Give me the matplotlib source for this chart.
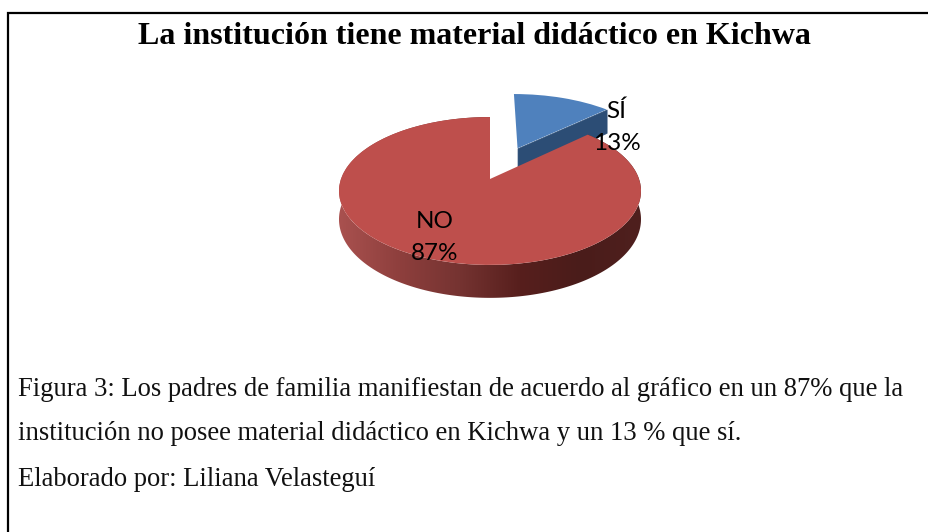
import numpy as np
import matplotlib
matplotlib.use("Agg")
import matplotlib.pyplot as plt
from matplotlib.collections import PolyCollection
from matplotlib.colors import LinearSegmentedColormap
from matplotlib.patches import Polygon
from matplotlib.transforms import Transform

categories = ["SÍ", "NO"]
percentages = [13, 87]
explode = [0.5, 0]
top_colors = ["#4F81BD", "#BE4F4C"]
title = "La institución tiene material didáctico en Kichwa"
caption_lines = [
    "Figura 3: Los padres de familia manifiestan de acuerdo al gráfico en un 87% que la",
    "institución no posee material didáctico en Kichwa y un 13 % que sí.",
    "Elaborado por: Liliana Velasteguí",
]

CX, CY, RX, SY, K, DEPTH = 490.0, 179.0, 149.0, 72.0, 0.162, 27.6


def project(xy, z=0.0):
    xy = np.asarray(xy, dtype=float)
    w = 1 + K * xy[:, 1]
    return np.column_stack([CX + RX * xy[:, 0] / w, CY - (SY * xy[:, 1] - z) / w])


class Perspective(Transform):
    input_dims = output_dims = 2
    has_inverse = False
    is_separable = False

    def transform_non_affine(self, values):
        return project(values)


fig = plt.figure(figsize=(9.29, 5.32), dpi=100, facecolor="white")
ax = fig.add_axes([0, 0, 1, 1])
wedges, _ = ax.pie(percentages, explode=explode, colors=top_colors, startangle=90,
                   counterclock=False, radius=1, wedgeprops={"linewidth": 0})

persp = Perspective()
blue, red = wedges
for w in wedges:
    w.set_transform(persp + ax.transData)


def arc_points(w, t):
    a = np.deg2rad(t)
    return np.column_stack([w.center[0] + w.r * np.cos(a), w.center[1] + w.r * np.sin(a)])


# blue cut face (front-right radial edge)
edge = np.array([[blue.center[0], blue.center[1]], arc_points(blue, [blue.theta1])[0]])
blue_face = np.vstack([project(edge), project(edge[::-1], DEPTH)])
ax.add_collection(PolyCollection([blue_face], facecolors="#2C4D75", edgecolors="#2C4D75",
                                 linewidths=0.5, zorder=1))
blue.set_zorder(2)

# red rim with a smooth horizontal shading, clipped to the rim outline
side_cmap = LinearSegmentedColormap.from_list(
    "rim", ["#A9514F", "#8E3F3D", "#753331", "#571F1D", "#4A1C1A", "#4F201E"])
ts = np.linspace(red.theta1, red.theta2, 361)
pts = arc_points(red, ts)
top_pts, bottom_pts = project(pts), project(pts, DEPTH)
rim_outline = np.vstack([top_pts, bottom_pts[::-1]])
x0, x1 = rim_outline[:, 0].min(), rim_outline[:, 0].max()
y0, y1 = rim_outline[:, 1].min(), rim_outline[:, 1].max()
rim_clip = Polygon(rim_outline, closed=True, transform=ax.transData, facecolor="none", edgecolor="none")
ax.add_patch(rim_clip)
im = ax.imshow(np.linspace(0, 1, 256)[None, :], cmap=side_cmap, extent=(x0, x1, y1, y0),
               aspect="auto", interpolation="bilinear", zorder=3)
im.set_clip_path(rim_clip)
red.set_zorder(4)

ax.set_aspect("auto")
ax.set_xlim(0, 929)
ax.set_ylim(532, 0)
ax.set_xticks([])
ax.set_yticks([])
ax.set_frame_on(False)

# slice labels
label_font = dict(family="Lato", fontsize=17.5, color="black", ha="center", va="center", zorder=6)
ax.text(616, 111, f"{categories[0]}", **label_font)
ax.text(617, 143, f"{percentages[0]}%", **label_font)
ax.text(435, 221, f"{categories[1]}", **label_font)
ax.text(435, 253, f"{percentages[1]}%", **label_font)

# text
serif = "Liberation Serif"
ax.text(474, 36, title, family=serif, fontsize=23, fontweight="bold", ha="center", va="center")
for y, line in zip([389, 433, 479], caption_lines):
    ax.text(18, y, line, family=serif, fontsize=19.15, ha="left", va="center", color="#111111")

# outer box: left and top rules only
ax.plot([8, 8, 929], [532, 13, 13], color="black", lw=1.6, solid_joinstyle="miter", zorder=7)

fig.savefig("out.png", dpi=100, facecolor="white")
